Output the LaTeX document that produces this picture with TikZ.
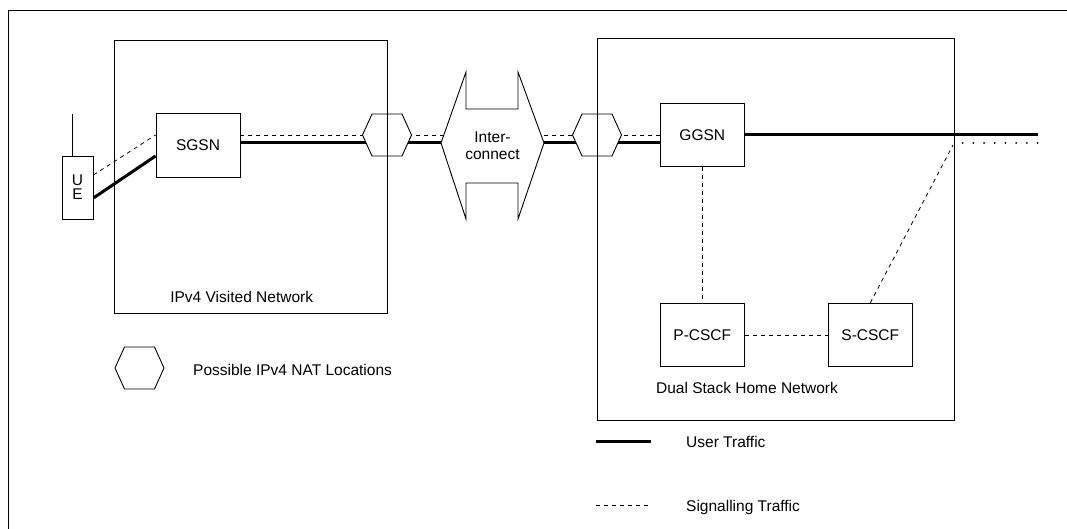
\documentclass[tikz,border=0pt]{standalone}
\usepackage{fontspec}
\setmainfont{Liberation Sans}
\begin{document}
\begin{tikzpicture}[x=1pt,y=-1pt,
  every node/.style={font=\fontsize{15.5}{18}\selectfont,inner sep=0pt},
  frame/.style={line width=0.9pt},
  box/.style={draw,line width=0.9pt,minimum width=84pt,minimum height=63.4pt,inner sep=0pt},
  user/.style={line width=3pt},
  sig/.style={line width=0.8pt,dash pattern=on 4pt off 4pt},
  dots/.style={line width=1.5pt,line cap=round,dash pattern=on 0.3pt off 10.4pt,dash phase=2.5pt},
  natshape/.style={draw,fill=white,line width=0.9pt},
  nat/.pic={\draw[natshape] (-24.5,0) -- (-15,-21) -- (15,-21) -- (24.5,0) -- (15,21) -- (-15,21) -- cycle;}
]
\useasboundingbox (0,0) rectangle (1067,529);

% outer frame (top and left edges)
\coordinate (frameBL) at (8,529);
\coordinate (frameTL) at (8,10);
\coordinate (frameTR) at (1067,10);
\draw[frame] (frameBL) -- (frameTL) -- (frameTR);

% network elements
\node[draw,line width=0.9pt,minimum width=31pt,minimum height=63pt,align=center,
      font=\fontsize{15.5}{14}\selectfont] (ue) at (77.5,187.5) {U\\E};
\coordinate (antTop) at (72,114);
\draw[frame] (ue.north -| antTop) -- (antTop);

\node[box] (sgsn) at (198,145.5) {SGSN};
\node[box] (ggsn) at (702.3,135) {GGSN};
\node[box] (pcscf) at (702.3,335) {P-CSCF};
\node[box] (scscf) at (870.3,335) {S-CSCF};

% NAT points and interconnect outline corners
\coordinate (hexA) at (387,135);
\coordinate (hexB) at (597,135);
\coordinate (icW) at (441,143);
\coordinate (icE) at (544,143);

% UE access links
\draw[sig] ([yshift=12.5pt]ue.east) -- ([yshift=10.5pt]sgsn.west);
\draw[user] ([yshift=-10.5pt]ue.east) -- ([yshift=-10.5pt]sgsn.west);

% signalling and user traffic between SGSN and GGSN
\draw[sig] (sgsn.east |- hexA) -- (hexA) -- (hexB) -- (ggsn.west |- hexB);
\draw[user] (sgsn.east |- icW) -- (icW) -- (icE) -- (ggsn.west |- icE);

% traffic leaving the home network
\coordinate (ext) at (1038,135);
\coordinate (homeE) at (954.3,143);
\draw[user] (ggsn.east) -- (ext);
\draw[dots] (homeE) -- (ext |- homeE);

% signalling inside the home network
\coordinate (scTop) at (953,145);
\draw[sig] (ggsn.south) -- (pcscf.north);
\draw[sig] (pcscf.east) -- (scscf.west);
\draw[sig] (scscf.north) -- (scTop);

% NAT locations
\pic at (hexA) {nat};
\pic at (hexB) {nat};

% interconnect
\draw[natshape] (icW) -- ++(25,-71) -- ++(0,37) -- ++(52,0) -- ++(0,-37) -- (icE)
  -- ++(-26,76) -- ++(0,-36) -- ++(-52,0) -- ++(0,36) -- cycle;
\node[align=center,font=\fontsize{15.5}{17.5}\selectfont] (ic) at (492.5,145.5) {Inter-\\connect};

% network domains
\node[draw,line width=0.9pt,minimum width=273pt,minimum height=273pt] (visited) at (250.5,176.7) {};
\node (visitedlbl) at (241.7,297.3) {IPv4 Visited Network};
\node[draw,line width=0.9pt,minimum width=357pt,minimum height=381.7pt] (home) at (775.7,229.2) {};
\node (homelbl) at (747,388.3) {Dual Stack Home Network};

% legend
\pic at (139.5,368) {nat};
\node[anchor=base west] (natlbl) at (193,375.2) {Possible IPv4 NAT Locations};
\coordinate (lgU1) at (596,441.7);
\coordinate (lgU2) at (651,441.7);
\draw[user] (lgU1) -- (lgU2);
\node[anchor=base west] (userlbl) at (686,447.1) {User Traffic};
\coordinate (lgS1) at (596,505.7);
\coordinate (lgS2) at (651,505.7);
\draw[sig] (lgS1) -- (lgS2);
\node[anchor=base west] (siglbl) at (686,511.1) {Signalling Traffic};
\end{tikzpicture}
\end{document}
